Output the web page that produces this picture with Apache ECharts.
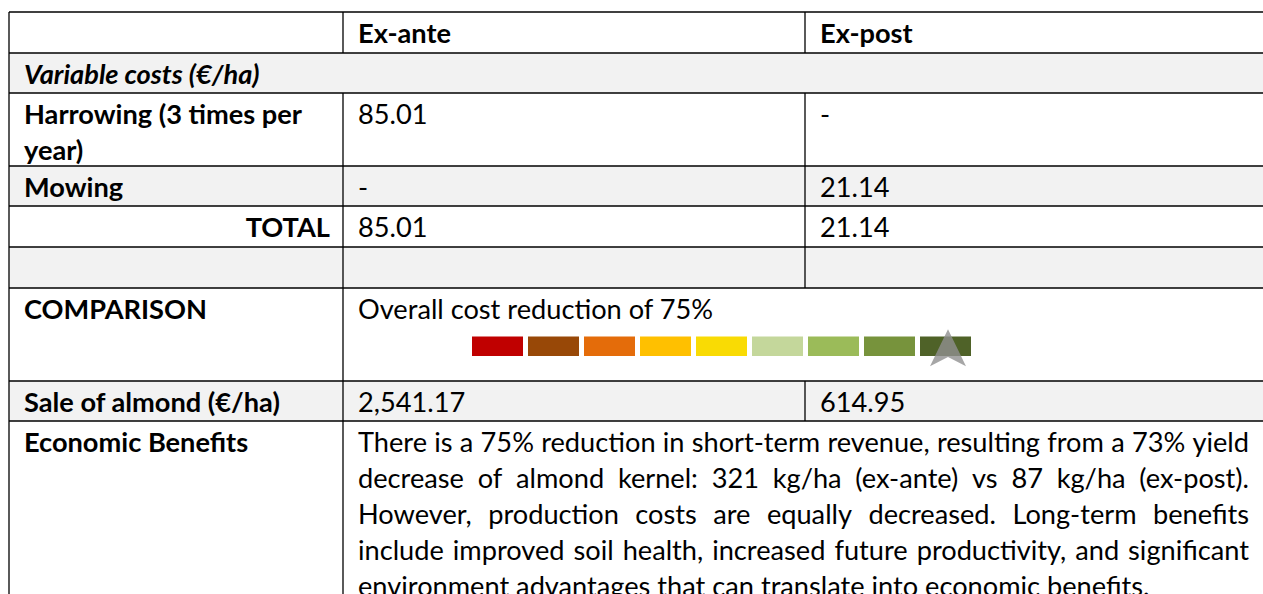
<!DOCTYPE html>
<html>
<head>
<meta charset="utf-8">
<title>Almond cost comparison</title>
<script src="https://cdn.jsdelivr.net/npm/echarts@6/dist/echarts.min.js"></script>
<style>
html, body { margin: 0; padding: 0; background: #fff; }
#main { width: 1263px; height: 594px; }
</style>
</head>
<body>
<div id="main"></div>
<script>
var columnTitles = ['', 'Ex-ante', 'Ex-post'];
var sectionTitle = 'Variable costs (€/ha)';
var costItems = [['Harrowing (3 times per', 'year)'], ['Mowing']];
var costExAnte = ['85.01', '-'];
var costExPost = ['-', '21.14'];
var totalLabel = 'TOTAL';
var totalValues = ['85.01', '21.14'];
var comparisonLabel = 'COMPARISON';
var comparisonText = 'Overall cost reduction of 75%';
var scaleSteps = ['1', '2', '3', '4', '5', '6', '7', '8', '9'];
var scaleValues = [1, 1, 1, 1, 1, 1, 1, 1, 1];
var markerStep = 8; // arrow sits on the last step
var saleLabel = 'Sale of almond (€/ha)';
var saleValues = ['2,541.17', '614.95'];
var benefitsLabel = 'Economic Benefits';
var benefitsLines = [
    'There is a 75% reduction in short-term revenue, resulting from a 73% yield',
    'decrease of almond kernel: 321 kg/ha (ex-ante) vs 87 kg/ha (ex-post).',
    'However, production costs are equally decreased. Long-term benefits',
    'include improved soil health, increased future productivity, and significant',
    'environment advantages that can translate into economic benefits.'
];

// ---- styles / layout ----
var scaleColors = ['#C00000', '#984807', '#E46C0A', '#FFC000', '#F9DB04',
                   '#C4D79B', '#9BBB59', '#77933C', '#4F6228'];
var grayFill = '#F2F2F2';
var fontFamily = 'Lato';
var colX = [9, 343, 805, 1300];
var rowY = [12, 53, 93, 166, 206, 247, 288, 381, 421, 640];
var pad = 15;
var textRight = 1249;
var lineGap = 35.8;

// size the font so the first justified line fits like in the original
var measureCtx = document.createElement('canvas').getContext('2d');
function textWidth(s, size, weight) {
    measureCtx.font = (weight || 'normal') + ' ' + size + 'px ' + fontFamily;
    return measureCtx.measureText(s).width;
}
var fontSize = Math.min(29.3, 100 * (textRight - colX[1] - pad - 3) / textWidth(benefitsLines[0], 100));

var elements = [];

function rect(x0, y0, x1, y1, fill) {
    elements.push({
        type: 'rect', silent: true, z: 0,
        shape: { x: x0, y: y0, width: x1 - x0, height: y1 - y0 },
        style: { fill: fill }
    });
}
function line(x0, y0, x1, y1) {
    elements.push({
        type: 'line', silent: true, z: 2,
        shape: { x1: x0, y1: y0, x2: x1, y2: y1 },
        style: { stroke: '#000', lineWidth: 1.3 }
    });
}
function txt(x, y, s, opt) {
    opt = opt || {};
    elements.push({
        type: 'text', silent: true, z: 3,
        x: x, y: y,
        style: {
            text: s,
            fill: '#000',
            fontFamily: fontFamily,
            fontSize: fontSize,
            fontWeight: opt.bold ? 'bold' : 'normal',
            fontStyle: opt.italic ? 'italic' : 'normal',
            align: opt.align || 'left',
            verticalAlign: 'middle'
        }
    });
}
function mid(r) { return rowY[r] + 20.5; }

// row fills
var grayRows = [1, 3, 5, 7];
grayRows.forEach(function(r) { rect(colX[0], rowY[r], colX[3], rowY[r + 1], grayFill); });

// grid lines
rowY.slice(0, 9).forEach(function(y) { line(colX[0], y, colX[3], y); });
line(colX[0], rowY[0], colX[0], rowY[9]);
line(colX[1], rowY[0], colX[1], rowY[1]);
line(colX[1], rowY[2], colX[1], rowY[9]);
line(colX[2], rowY[0], colX[2], rowY[1]);
line(colX[2], rowY[2], colX[2], rowY[6]);
line(colX[2], rowY[7], colX[2], rowY[8]);

// header
txt(colX[1] + pad, mid(0), columnTitles[1], { bold: true });
txt(colX[2] + pad, mid(0), columnTitles[2], { bold: true });
// section
txt(colX[0] + pad, mid(1), sectionTitle, { bold: true, italic: true });
// cost items
costItems.forEach(function(lines, i) {
    var r = 2 + i;
    lines.forEach(function(s, k) {
        txt(colX[0] + pad, mid(r) + k * lineGap, s, { bold: true });
    });
    txt(colX[1] + pad, mid(r), costExAnte[i]);
    txt(colX[2] + pad, mid(r), costExPost[i]);
});
// total
txt(colX[1] - 13, mid(4), totalLabel, { bold: true, align: 'right' });
txt(colX[1] + pad, mid(4), totalValues[0]);
txt(colX[2] + pad, mid(4), totalValues[1]);
// comparison
txt(colX[0] + pad, mid(6), comparisonLabel, { bold: true });
txt(colX[1] + pad, mid(6), comparisonText);
// sale
txt(colX[0] + pad, mid(7), saleLabel, { bold: true });
txt(colX[1] + pad, mid(7), saleValues[0]);
txt(colX[2] + pad, mid(7), saleValues[1]);
// economic benefits, justified like the source paragraph
txt(colX[0] + pad, mid(8), benefitsLabel, { bold: true });
benefitsLines.forEach(function(s, k) {
    var y = mid(8) + k * 36;
    var x0 = colX[1] + pad;
    if (k === benefitsLines.length - 1) {
        txt(x0, y, s);
        return;
    }
    var words = s.split(' ');
    var widths = words.map(function(w) { return textWidth(w, fontSize); });
    var total = widths.reduce(function(a, b) { return a + b; }, 0);
    var gap = (textRight - x0 - total) / (words.length - 1);
    var x = x0;
    words.forEach(function(w, j) {
        txt(x, y, w);
        x += widths[j] + gap;
    });
});

var chart = echarts.init(document.getElementById('main'), null, { renderer: 'svg' });
chart.setOption({
    animation: false,
    graphic: { elements: elements },
    grid: { left: 469.5, top: 336.5, width: 504, height: 19.5 },
    xAxis: { type: 'category', data: scaleSteps, show: false },
    yAxis: { type: 'value', min: 0, max: 1, show: false },
    series: [{
        type: 'bar',
        barWidth: 51,
        silent: true,
        z: 5,
        data: scaleValues.map(function(v, i) {
            return { value: v, itemStyle: { color: scaleColors[i] } };
        })
    }, {
        // the 'arrow' symbol hangs from its anchor point, so lift it up
        type: 'scatter',
        symbol: 'arrow',
        symbolSize: [27, 37],
        symbolOffset: [2.5, -17],
        silent: true,
        z: 6,
        itemStyle: { color: '#909090' },
        data: [[markerStep, 0.5]]
    }]
});
window.addEventListener('resize', chart.resize);
</script>
</body>
</html>
